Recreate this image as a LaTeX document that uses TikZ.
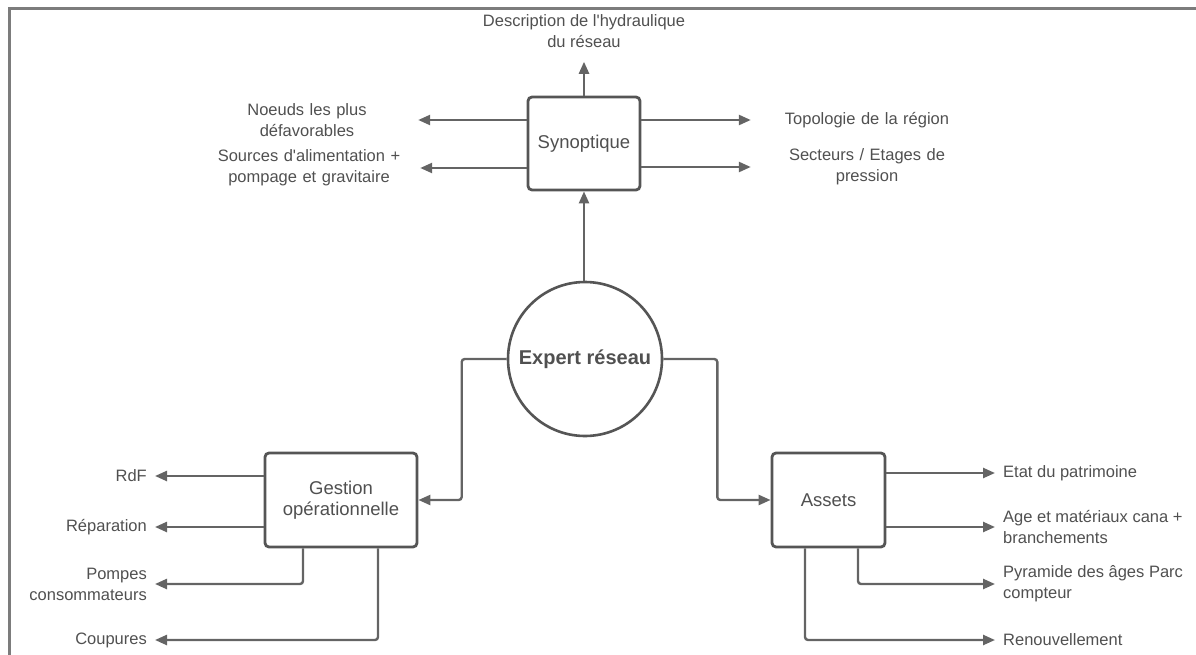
\documentclass[tikz,border=0pt]{standalone}
\usepackage{fontspec}
\setmainfont{Liberation Sans}
\usetikzlibrary{arrows.meta,positioning}
\definecolor{linegray}{HTML}{646464}
\definecolor{boxgray}{HTML}{555555}
\definecolor{txtgray}{HTML}{505050}
\definecolor{framegray}{HTML}{7C7C7C}
\tikzset{every path/.style={linegray,line width=2.4pt}, every node/.style={txtgray}}
\tikzset{arr/.style={-{Triangle[length=12pt,width=10pt]},rounded corners=3pt},
  blok/.style={draw=boxgray,line width=2.8pt,rounded corners=4pt,fill=white,align=center,font=\fontsize{18.5}{21}\selectfont},
  lbl/.style={font=\fontsize{16.5}{21}\selectfont,inner sep=0pt},
  topl/.style={lbl,text width=220pt,align=center},
  topr/.style={lbl,text width=230pt,align=center},
  outl/.style={lbl,inner xsep=7pt,anchor=east,align=right},
  outr/.style={lbl,inner xsep=7pt,anchor=west,align=left}}

\begin{document}
\begin{tikzpicture}[x=1pt,y=-1pt]
   \useasboundingbox (0,0) rectangle (1196,655);
   \draw[framegray,line width=3pt] (9,655) -- (9,9) -- (1196,9);
   \begin{scope}
    \node[blok,minimum width=112pt,minimum height=93pt] (synop) at (584,143.5) {Synoptique};
    \node[lbl,align=center,inner ysep=13pt] (desc) at (584,31) {Description de l\textquotesingle hydraulique\\du réseau};
    \node[topl] (noeuds) at (307,120) {Noeuds les plus\\défavorables};
    \node[topl] (sources) at (309,168) {Sources d\textquotesingle alimentation +\\pompage et gravitaire};
    \node[topr] (topo) at (867,120) {Topologie de la région};
    \node[topr] (secteurs) at (867,167) {Secteurs / Etages de\\pression};
    \draw[arr] (synop.north) -- (desc.south);
    \draw[arr] (synop.west |- noeuds) -- (noeuds.east);
    \draw[arr] (synop.west |- sources) -- (sources.east);
    \draw[arr] (synop.east |- topo) -- (topo.west);
    \draw[arr] (synop.east |- secteurs) -- (secteurs.west);
   \end{scope}
   \node[draw=boxgray,line width=2.6pt,circle,minimum size=154pt,fill=white,font=\fontsize{20}{24}\selectfont\bfseries] (expert) at (585,359) {Expert réseau};
   \draw[arr] (expert.north -| synop.south) -- (synop.south);
   \begin{scope}
    \node[blok,minimum width=152pt,minimum height=94pt] (gestion) at (341,500) {Gestion\\opérationnelle};
    \node[outl] (rdf) at (155,476) {RdF};
    \node[outl] (repar) at (155,527) {Réparation};
    \node[outl] (pompes) at (155,584) {Pompes\\consommateurs};
    \node[outl] (coupures) at (155,640) {Coupures};
    \draw[arr] (expert.west) -- ++(-45,0) |- (gestion.east);
    \draw[arr] (gestion.west |- rdf) -- (rdf.east);
    \draw[arr] (gestion.west |- repar) -- (repar.east);
    \draw[arr] ([xshift=-38pt]gestion.south) |- (pompes.east);
    \draw[arr] ([xshift=37pt]gestion.south) |- (coupures.east);
   \end{scope}
   \begin{scope}
    \node[blok,minimum width=113pt,minimum height=94pt] (assets) at (828.5,500) {Assets};
    \node[outr] (etat) at (995,473) {Etat du patrimoine};
    \node[outr] (age) at (995,527) {Age et matériaux cana +\\branchements};
    \node[outr] (pyramide) at (995,584) {Pyramide des âges Parc\\compteur};
    \node[outr] (renouv) at (995,640) {Renouvellement};
    \draw[arr] (expert.east) -- ++(54,0) |- (assets.west);
    \draw[arr] (assets.east |- etat) -- (etat.west);
    \draw[arr] (assets.east |- age) -- (age.west);
    \draw[arr] ([xshift=29.5pt]assets.south) |- (pyramide.west);
    \draw[arr] ([xshift=-23.5pt]assets.south) |- (renouv.west);
   \end{scope}
  \end{tikzpicture}
\end{document}
